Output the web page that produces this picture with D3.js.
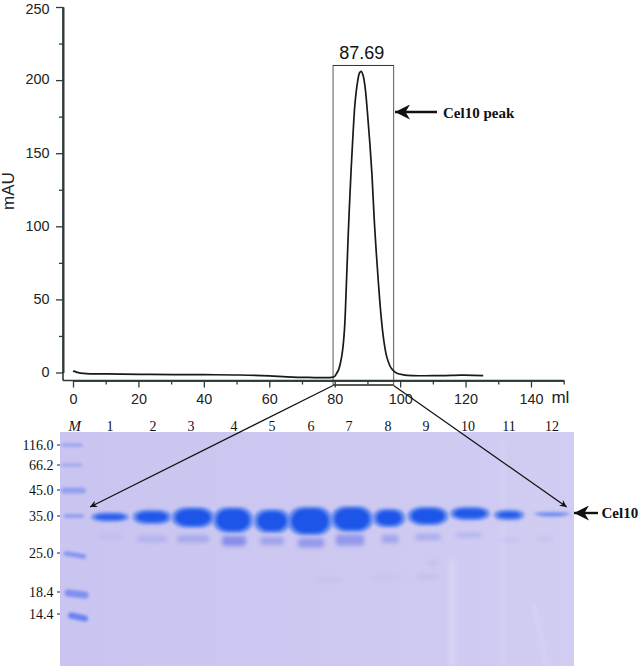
<!DOCTYPE html>
<html>
<head>
<meta charset="utf-8">
<script src="https://cdn.jsdelivr.net/npm/d3@7"></script>
<style>
html,body{margin:0;padding:0;background:#fff;}
svg{display:block;}
</style>
</head>
<body>
<script>
// Chromatogram values (ml, mAU)
const elutionMl = [0.1,0.4,1,4,10,23.5,40,51,60,65.4,72,79,80,80.6,81.2,81.8,82.4,83,83.5,84.2,85,85.6,86.2,87,87.6,88.1,88.7,89.3,90,90.7,91.4,92.2,93.4,94.2,95,96,97.4,99,101,104,110,118.5,119.5,125.4];
const absorbance = [0.3,0.9,0.3,-0.8,-1,-1.3,-1.5,-1.7,-2.3,-3,-3.4,-3.3,-2.6,-0.5,2,7,15,30,56,98,138,163,184,199,205,206,203,195,178,158,135,100,60,38,22,10,2.5,-0.5,-1.6,-2.1,-2.2,-1.8,-1.8,-2.2];
const yTicks = [0,50,100,150,200,250];
const yMinorTicks = [25,75,125,175,225];
const xTicks = [0,20,40,60,80,100,120,140];
const xMinorTicks = [10,30,50,70,90,110,130,150];
const peakLabel = "87.69";
const peakWindow = [79.5,98];
const peakName = "Cel10 peak";
const bandName = "Cel10";

// Gel readings, in gel units along the gel's width and down its height
const markerLabels = ["116.0","66.2","45.0","35.0","25.0","18.4","14.4"];
const markerLabelPos = [13,33,58,84,121,160,182];
const markerBandPos = [13,33,58.5,84,123,162,185];
const markerBandFrom = [3,3,4,6,6,8,11];
const markerBandTo = [21,21,23,22,24,25,25];
const markerBandThick = [3,3,6,4,4.5,7,6];
const markerBandTilt = [0,0,0,0,3,2,3];
const markerBandStain = [.5,.42,.5,.5,.65,.7,.9];
const laneLabels = ["1","2","3","4","5","6","7","8","9","10","11","12"];
const laneLabelPos = [50,93,131,174,212,251,289,328,366,408,449,492];
const laneCentre = [50,92,133,173,212,250,292,329,368,410,449,492];
const mainSpread = [38,39,43,41,37,45,43,33,41,40,31,36];
const mainMigration = [85,85,85.5,88,89,89,87,86,84,81.5,83,82];
const mainThick = [10,15,21,26,24,29,26,19,19,14,11,5];
const mainStain = [.9,.95,1,1,1,1,1,1,1,.95,.9,.6];
const minorCentre = [50,92,133,174,212,251,290,330,368,409,450,485];
const minorSpread = [24,30,32,24,24,26,28,17,26,26,18,15];
const minorMigration = [105,107,107,109,109,111,108,107,105,103,108,107];
const minorThick = [4,6,7,10,8,9,11,8,6,4,4,4];
const minorStain = [.1,.22,.32,.6,.38,.5,.5,.38,.3,.25,.1,.1];
const streakFrom = [[392,128],[443,8],[473,170]];
const streakTo = [[392,234],[443,234],[487,234]];
const streakWeight = [7,2.5,3];
const smearCentre = [373,368,326,270];
const smearMigration = [131,145,145,148];
const smearSpread = [12,24,30,30];
const smearStain = [.14,.14,.08,.08];

const W = 640, H = 666;
const svg = d3.select("body").append("svg").attr("width",W).attr("height",H).attr("viewBox",[0,0,W,H]);
const defs = svg.append("defs");
const blur = (id,s)=>defs.append("filter").attr("id",id).attr("filterUnits","userSpaceOnUse")
  .attr("x",0).attr("y",0).attr("width",W).attr("height",H)
  .append("feGaussianBlur").attr("stdDeviation",s);
blur("b1",1.6); blur("b2",2.2); blur("b3",3);
const grad = defs.append("linearGradient").attr("id","gelBg");
[[0,"#c9c5f0"],[.5,"#ccc8f0"],[1,"#d0ccf2"]].forEach(d=>grad.append("stop").attr("offset",d[0]).attr("stop-color",d[1]));
const mk = (id,w,h)=>defs.append("marker").attr("id",id).attr("viewBox","0 0 10 10").attr("refX",10).attr("refY",5)
  .attr("markerWidth",w).attr("markerHeight",h).attr("markerUnits","userSpaceOnUse").attr("orient","auto")
  .append("path").attr("d","M0,0L10,5L0,10L3,5Z").attr("fill","#111");
mk("tip",10,7);
mk("big",15,15);

const x = d3.scaleLinear().domain([0,150]).range([73,563.7]);
const y = d3.scaleLinear().domain([0,250]).range([372.5,7]);
const axisY = 380.5, axisX = 63;
const sans = "'Liberation Sans',Arial,sans-serif", serif = "'Liberation Serif','Times New Roman',serif";
const gelX = d3.scaleLinear().domain([0,514]).range([60,574]);
const gelY = d3.scaleLinear().domain([0,234]).range([432,666]);

// ---- Gel
const gel = svg.append("g");
gel.append("rect").attr("x",gelX(0)).attr("y",gelY(0)).attr("width",gelX(514)-gelX(0)).attr("height",gelY(234)-gelY(0)).attr("fill","url(#gelBg)");
defs.append("clipPath").attr("id","gelClip").append("rect").attr("x",gelX(0)).attr("y",gelY(0)).attr("width",514).attr("height",234);
const gelInner = gel.append("g").attr("clip-path","url(#gelClip)");
gelInner.append("g").selectAll("line").data(streakFrom).join("line")
  .attr("x1",d=>gelX(d[0])).attr("y1",d=>gelY(d[1]))
  .attr("x2",(d,i)=>gelX(streakTo[i][0])).attr("y2",(d,i)=>gelY(streakTo[i][1]))
  .attr("stroke","#e0ddf8").attr("stroke-width",(d,i)=>streakWeight[i]).attr("filter","url(#b2)").attr("opacity",.55);
gelInner.append("g").selectAll("ellipse").data(smearCentre).join("ellipse")
  .attr("cx",d=>gelX(d)).attr("cy",(d,i)=>gelY(smearMigration[i]))
  .attr("rx",(d,i)=>smearSpread[i]/2).attr("ry",3).attr("fill","#8f88dc")
  .attr("opacity",(d,i)=>smearStain[i]).attr("filter","url(#b2)");
// markers
gelInner.append("g").selectAll("path").data(markerLabels).join("path")
  .attr("d",(d,i)=>{
    const yc=gelY(markerBandPos[i]);
    return d3.line()([[gelX(markerBandFrom[i]),yc-markerBandTilt[i]/2],[gelX(markerBandTo[i]),yc+markerBandTilt[i]/2]]);
  })
  .attr("stroke","#5f78f2").attr("stroke-linecap","round").attr("fill","none")
  .attr("stroke-width",(d,i)=>markerBandThick[i]).attr("opacity",(d,i)=>markerBandStain[i]).attr("filter","url(#b1)");
// minor bands
gelInner.append("g").selectAll("rect").data(minorCentre).join("rect")
  .attr("x",(d,i)=>gelX(d)-minorSpread[i]/2).attr("y",(d,i)=>gelY(minorMigration[i])-minorThick[i]/2)
  .attr("width",(d,i)=>minorSpread[i]).attr("height",(d,i)=>minorThick[i]).attr("rx",3)
  .attr("fill","#5a68e6").attr("opacity",(d,i)=>minorStain[i]).attr("filter","url(#b2)");
// main bands: soft halo then saturated core
gelInner.append("g").selectAll("rect").data(laneCentre).join("rect")
  .attr("x",(d,i)=>gelX(d)-mainSpread[i]/2).attr("y",(d,i)=>gelY(mainMigration[i])-mainThick[i]/2)
  .attr("width",(d,i)=>mainSpread[i]).attr("height",(d,i)=>mainThick[i])
  .attr("rx",(d,i)=>mainSpread[i]*.35).attr("ry",(d,i)=>mainThick[i]*.48)
  .attr("fill","#5a84f0").attr("opacity",(d,i)=>mainStain[i]*.85).attr("filter","url(#b1)");
gelInner.append("g").selectAll("rect").data(laneCentre).join("rect")
  .attr("x",(d,i)=>gelX(d)-mainSpread[i]/2+4).attr("y",(d,i)=>gelY(mainMigration[i])-mainThick[i]/2+2.5)
  .attr("width",(d,i)=>mainSpread[i]-8).attr("height",(d,i)=>Math.max(1.5,mainThick[i]-5))
  .attr("rx",(d,i)=>mainSpread[i]*.3).attr("ry",(d,i)=>Math.max(1,mainThick[i]*.42))
  .attr("fill","#1f55e8").attr("opacity",(d,i)=>mainStain[i]).attr("filter","url(#b1)");

// gel labels
svg.append("g").selectAll("text").data(laneLabels).join("text")
  .attr("x",(d,i)=>gelX(laneLabelPos[i])).attr("y",gelY(0)-1.5).attr("text-anchor","middle")
  .attr("font-family",serif).attr("font-size",14).attr("fill","#111").text(d=>d);
svg.append("text").attr("x",gelX(14.7)).attr("y",gelY(0)-1.5).attr("text-anchor","middle")
  .attr("font-family",serif).attr("font-style","italic").attr("font-size",15).attr("fill","#111").text("M");
const mg = svg.append("g");
mg.selectAll("text").data(markerLabels).join("text")
  .attr("x",gelX(-6.5)).attr("y",(d,i)=>gelY(markerLabelPos[i])+4.5).attr("text-anchor","end")
  .attr("font-family",serif).attr("font-size",14).attr("fill","#111").text(d=>d);
mg.selectAll("line").data(markerLabels).join("line")
  .attr("x1",gelX(-3)).attr("x2",gelX(0)).attr("y1",(d,i)=>gelY(markerLabelPos[i])).attr("y2",(d,i)=>gelY(markerLabelPos[i]))
  .attr("stroke","#222").attr("stroke-width",1);

// ---- Peak window
const winG = svg.append("g");
winG.append("path")
  .attr("d",`M${x(peakWindow[0])},${axisY+4.5}V${y(210)}H${x(peakWindow[1])}V${axisY+4.5}`)
  .attr("fill","none").attr("stroke","#6c7474").attr("stroke-width",1.2);
winG.append("line").attr("x1",x(peakWindow[0])).attr("x2",x(peakWindow[1])).attr("y1",y(210)).attr("y2",y(210)).attr("stroke","#333").attr("stroke-width",1);
winG.append("line").attr("x1",x(peakWindow[0])).attr("x2",x(peakWindow[1])).attr("y1",axisY+4.5).attr("y2",axisY+4.5).attr("stroke","#222").attr("stroke-width",1.3);

// ---- Curve
const line = d3.line().x(d=>x(d[0])).y(d=>y(d[1])).curve(d3.curveCatmullRom.alpha(0.5));
svg.append("path").datum(elutionMl.map((m,i)=>[m,absorbance[i]])).attr("d",line)
  .attr("fill","none").attr("stroke","#151a1a").attr("stroke-width",1.7).attr("stroke-linejoin","round");

// ---- Axes
const xAxis = svg.append("g").attr("transform",`translate(0,${axisY})`);
xAxis.call(d3.axisBottom(x).tickValues(xTicks).tickSize(7).tickSizeOuter(0).tickPadding(6.5).tickFormat(d3.format("d")));
const xMinor = svg.append("g").attr("transform",`translate(0,${axisY})`);
xMinor.call(d3.axisBottom(x).tickValues(xMinorTicks).tickSize(4).tickSizeOuter(0).tickFormat(""));
const yAxis = svg.append("g").attr("transform",`translate(${axisX},0)`);
yAxis.call(d3.axisLeft(y).tickValues(yTicks).tickSize(7).tickSizeOuter(0).tickPadding(6.5).tickFormat(d3.format("d")));
const yMinor = svg.append("g").attr("transform",`translate(${axisX},0)`);
yMinor.call(d3.axisLeft(y).tickValues(yMinorTicks).tickSize(4).tickSizeOuter(0).tickFormat(""));
[xAxis,xMinor,yAxis,yMinor].forEach(g=>{
  g.selectAll("line").attr("stroke","#2f3a3a").attr("stroke-width",1.3);
  g.selectAll("text").attr("font-family",sans).attr("font-size",14.4).attr("fill","#222");
  g.select(".domain").attr("stroke","#2f3a3a").attr("stroke-width",1.6);
});
yAxis.selectAll("text").attr("dy",d=>d===250?"0.42em":"0.27em");
svg.append("line").attr("x1",axisX).attr("x2",axisX).attr("y1",y(250)).attr("y2",axisY).attr("stroke","#2f3a3a").attr("stroke-width",1.6);
svg.append("line").attr("x1",axisX).attr("x2",x(150)).attr("y1",axisY).attr("y2",axisY).attr("stroke","#2f3a3a").attr("stroke-width",1.6);

// ---- Titles
svg.append("text").attr("transform","translate(14,191) rotate(-90)").attr("text-anchor","middle")
  .attr("font-family",sans).attr("font-size",17).attr("fill","#222").text("mAU");
svg.append("text").attr("x",x(149)).attr("y",403).attr("text-anchor","middle")
  .attr("font-family",sans).attr("font-size",17).attr("fill","#222").text("ml");
svg.append("text").attr("x",x(88.3)).attr("y",59.3).attr("text-anchor","middle")
  .attr("font-family",sans).attr("font-size",18).attr("fill","#111").text(peakLabel);

// ---- Callouts
const callout = (x1,y1,x2,y2,sw,mid)=>svg.append("line").attr("x1",x1).attr("y1",y1).attr("x2",x2).attr("y2",y2)
  .attr("stroke","#111").attr("stroke-width",sw).attr("marker-end",`url(#${mid})`);
callout(x(peakWindow[0]),axisY+5,gelX(30),gelY(75),1.2,"tip");
callout(x(peakWindow[1]),axisY+5,gelX(506.7),gelY(75),1.2,"tip");
callout(437,112,395,112,2.4,"big");
callout(598,513,574,513,2.4,"big");
svg.append("text").attr("x",443).attr("y",118).attr("font-family",serif).attr("font-weight","bold")
  .attr("font-size",15).attr("fill","#111").text(peakName);
svg.append("text").attr("x",601.5).attr("y",518).attr("font-family",serif).attr("font-weight","bold")
  .attr("font-size",15).attr("fill","#111").text(bandName);
</script>
</body>
</html>
